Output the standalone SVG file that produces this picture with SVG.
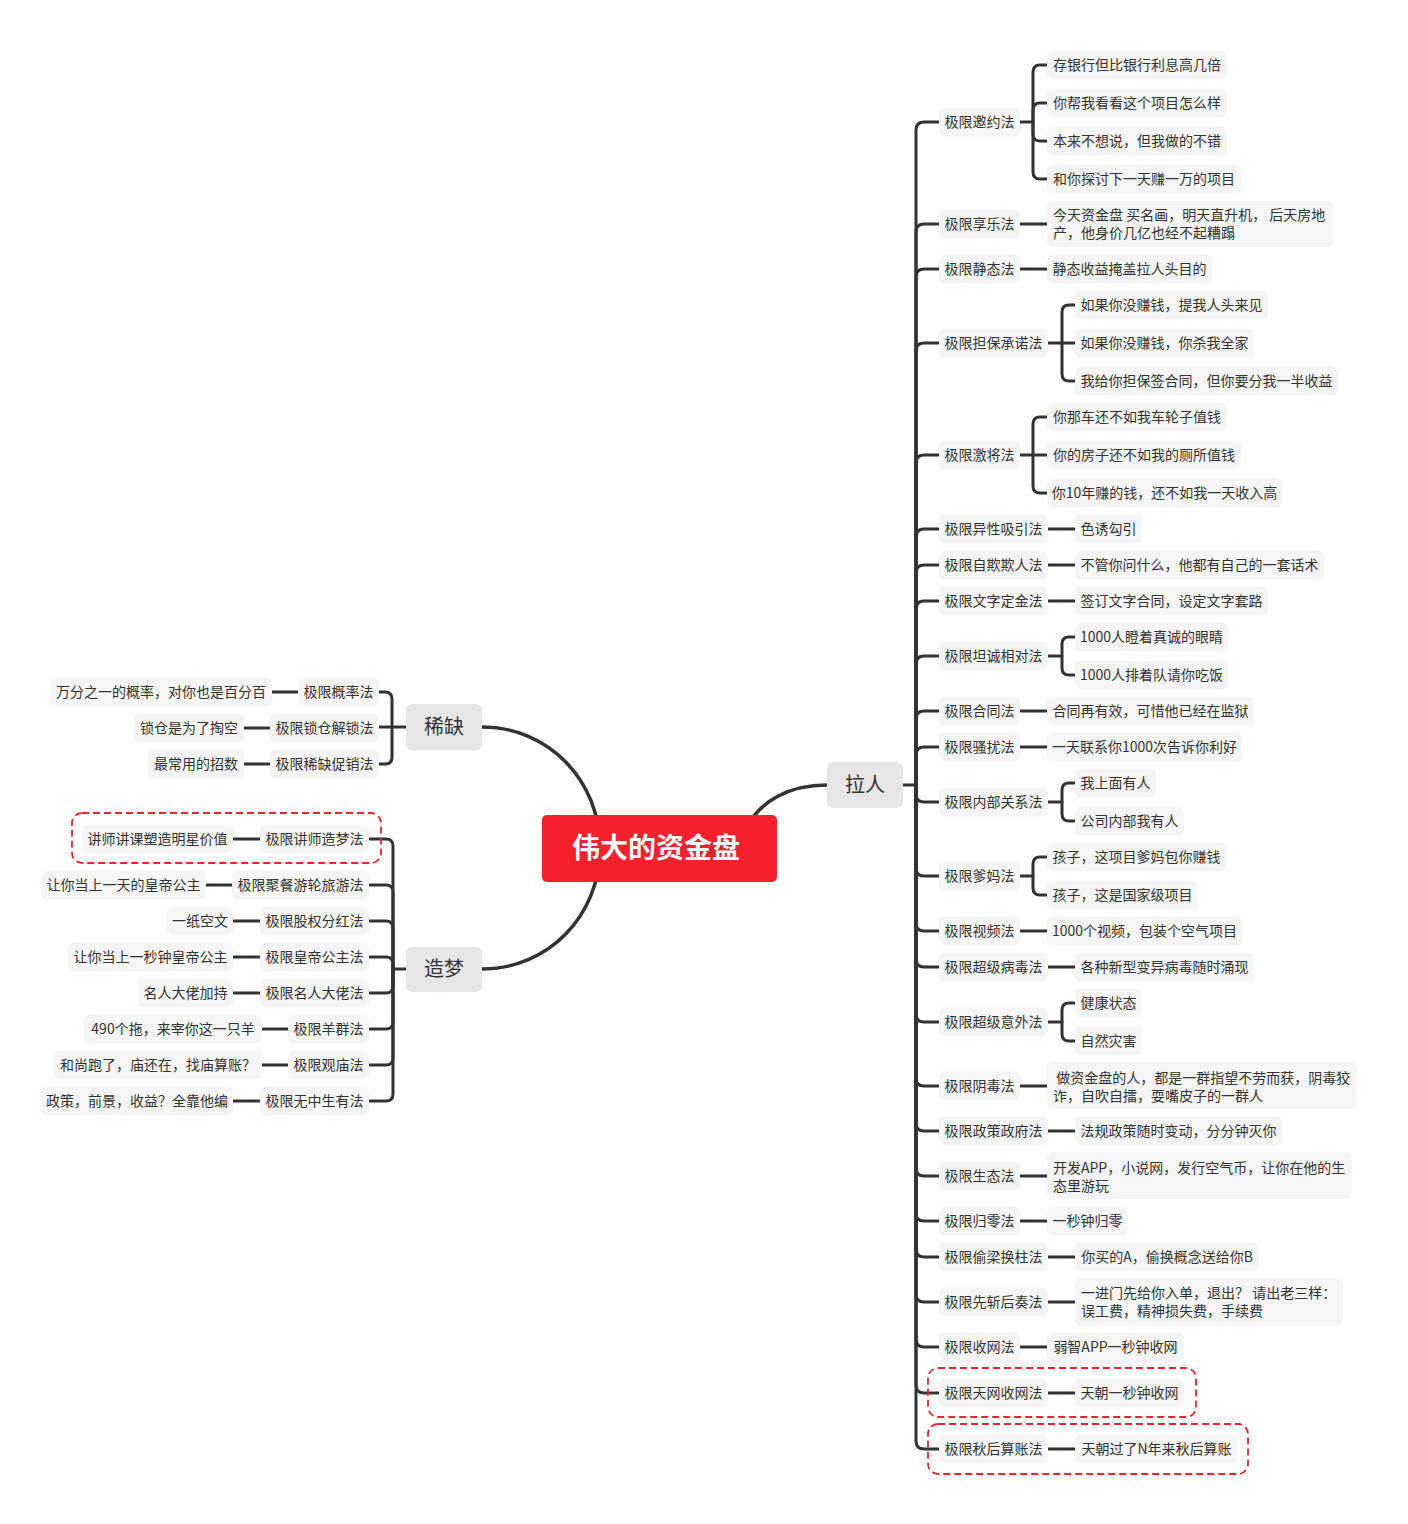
<svg xmlns="http://www.w3.org/2000/svg" width="1408" height="1524" viewBox="0 0 1408 1524">
<style>
.bg{fill:#ffffff}
.ln{fill:none;stroke:#333333;stroke-width:3;stroke-linecap:round;stroke-linejoin:round}
.cv{fill:none;stroke:#333333;stroke-width:3.5;stroke-linecap:round}
.n{fill:#f5f5f5}
.m{fill:#e6e6e6}
.t{font-family:"Noto Sans CJK SC","Liberation Sans",sans-serif;font-size:14px;fill:#333333}
.tc{text-anchor:middle}
.tm{font-family:"Noto Sans CJK SC","Liberation Sans",sans-serif;font-size:20px;fill:#333333;text-anchor:middle}
.root{font-family:"Noto Sans CJK SC","Liberation Sans",sans-serif;font-size:28px;font-weight:bold;fill:#ffffff;text-anchor:middle}
.dash{fill:none;stroke:#f5222d;stroke-width:1.8;stroke-dasharray:7 4}
</style>
<rect class="bg" x="0" y="0" width="1408" height="1524"/>

<g id="connectors">
<!-- root curves -->
<path class="cv" d="M482,727 C548,727 600,780 600,848"/>
<path class="cv" d="M482,969 C548,969 600,916 600,848"/>
<path class="cv" d="M827,785 C790,785 760,800 745,830"/>
<!-- right trunk -->
<path class="ln" d="M903,785 H916 V130 Q916,122 924,122 H939"/>
<path class="ln" d="M916,785 V232 Q916,224 924,224 H939"/>
<path class="ln" d="M916,785 V277 Q916,269 924,269 H939"/>
<path class="ln" d="M916,785 V351 Q916,343 924,343 H939"/>
<path class="ln" d="M916,785 V463 Q916,455 924,455 H939"/>
<path class="ln" d="M916,785 V537 Q916,529 924,529 H939"/>
<path class="ln" d="M916,785 V573 Q916,565 924,565 H939"/>
<path class="ln" d="M916,785 V609 Q916,601 924,601 H939"/>
<path class="ln" d="M916,785 V664 Q916,656 924,656 H939"/>
<path class="ln" d="M916,785 V719 Q916,711 924,711 H939"/>
<path class="ln" d="M916,785 V755 Q916,747 924,747 H939"/>
<path class="ln" d="M916,785 V794 Q916,802 924,802 H939"/>
<path class="ln" d="M916,785 V868 Q916,876 924,876 H939"/>
<path class="ln" d="M916,785 V923 Q916,931 924,931 H939"/>
<path class="ln" d="M916,785 V959 Q916,967 924,967 H939"/>
<path class="ln" d="M916,785 V1014 Q916,1022 924,1022 H939"/>
<path class="ln" d="M916,785 V1078 Q916,1086 924,1086 H939"/>
<path class="ln" d="M916,785 V1123 Q916,1131 924,1131 H939"/>
<path class="ln" d="M916,785 V1168 Q916,1176 924,1176 H939"/>
<path class="ln" d="M916,785 V1213 Q916,1221 924,1221 H939"/>
<path class="ln" d="M916,785 V1249 Q916,1257 924,1257 H939"/>
<path class="ln" d="M916,785 V1294 Q916,1302 924,1302 H939"/>
<path class="ln" d="M916,785 V1339 Q916,1347 924,1347 H939"/>
<path class="ln" d="M916,785 V1385 Q916,1393 924,1393 H939"/>
<path class="ln" d="M916,785 V1441 Q916,1449 924,1449 H939"/>
<!-- right L2 to L3 -->
<path class="ln" d="M1020,122 H1033 V72 Q1033,65 1040,65 H1047"/>
<path class="ln" d="M1033,122 V110 Q1033,103 1040,103 H1047"/>
<path class="ln" d="M1033,122 V134 Q1033,141 1040,141 H1047"/>
<path class="ln" d="M1033,122 V172 Q1033,179 1040,179 H1047"/>
<path class="ln" d="M1020,224 H1047"/>
<path class="ln" d="M1020,269 H1047"/>
<path class="ln" d="M1048,343 H1075"/>
<path class="ln" d="M1062,343 V312 Q1062,305 1069,305 H1075"/>
<path class="ln" d="M1062,343 V374 Q1062,381 1069,381 H1075"/>
<path class="ln" d="M1020,455 H1047"/>
<path class="ln" d="M1033,455 V424 Q1033,417 1040,417 H1047"/>
<path class="ln" d="M1033,455 V486 Q1033,493 1040,493 H1047"/>
<path class="ln" d="M1048,529 H1075"/>
<path class="ln" d="M1048,565 H1075"/>
<path class="ln" d="M1048,601 H1075"/>
<path class="ln" d="M1048,656 H1062 V644 Q1062,637 1069,637 H1075"/>
<path class="ln" d="M1062,656 V668 Q1062,675 1069,675 H1075"/>
<path class="ln" d="M1020,711 H1047"/>
<path class="ln" d="M1020,747 H1047"/>
<path class="ln" d="M1048,802 H1062 V790 Q1062,783 1069,783 H1075"/>
<path class="ln" d="M1062,802 V814 Q1062,821 1069,821 H1075"/>
<path class="ln" d="M1020,876 H1033 V864 Q1033,857 1040,857 H1047"/>
<path class="ln" d="M1033,876 V888 Q1033,895 1040,895 H1047"/>
<path class="ln" d="M1020,931 H1047"/>
<path class="ln" d="M1048,967 H1075"/>
<path class="ln" d="M1048,1022 H1062 V1010 Q1062,1003 1069,1003 H1075"/>
<path class="ln" d="M1062,1022 V1034 Q1062,1041 1069,1041 H1075"/>
<path class="ln" d="M1020,1086 H1047"/>
<path class="ln" d="M1048,1131 H1075"/>
<path class="ln" d="M1020,1176 H1047"/>
<path class="ln" d="M1020,1221 H1047"/>
<path class="ln" d="M1048,1257 H1075"/>
<path class="ln" d="M1048,1302 H1075"/>
<path class="ln" d="M1020,1347 H1047"/>
<path class="ln" d="M1048,1393 H1075"/>
<path class="ln" d="M1048,1449 H1075"/>
<!-- left: 稀缺 -->
<path class="ln" d="M406,727 H392 V699 Q392,692 385,692 H379"/>
<path class="ln" d="M392,727 H379"/>
<path class="ln" d="M392,727 V757 Q392,764 385,764 H379"/>
<path class="ln" d="M298,692 H272"/>
<path class="ln" d="M270,728 H244"/>
<path class="ln" d="M270,764 H244"/>
<!-- left: 造梦 -->
<path class="ln" d="M406,969 H393 V846 Q393,839 386,839 H369"/>
<path class="ln" d="M393,969 V892 Q393,885 386,885 H369"/>
<path class="ln" d="M393,969 V928 Q393,921 386,921 H369"/>
<path class="ln" d="M393,969 V964 Q393,957 386,957 H369"/>
<path class="ln" d="M393,969 V986 Q393,993 386,993 H369"/>
<path class="ln" d="M393,969 V1022 Q393,1029 386,1029 H369"/>
<path class="ln" d="M393,969 V1058 Q393,1065 386,1065 H369"/>
<path class="ln" d="M393,969 V1094 Q393,1101 386,1101 H369"/>
<path class="ln" d="M260,839 H233"/>
<path class="ln" d="M232,885 H206"/>
<path class="ln" d="M260,921 H233"/>
<path class="ln" d="M260,957 H233"/>
<path class="ln" d="M260,993 H233"/>
<path class="ln" d="M288,1029 H262"/>
<path class="ln" d="M288,1065 H262"/>
<path class="ln" d="M260,1101 H233"/>
</g>

<!-- root -->
<g id="root">
<rect x="542" y="815" width="235" height="67" rx="5" fill="#f5222d"/>
<text class="root" x="656" y="858">伟大的资金盘</text>
</g>

<!-- main branches -->
<g id="n-laren"><rect class="m" x="827" y="762" width="76" height="46" rx="6"/><text class="tm" x="865" y="792">拉人</text></g>
<g id="n-xique"><rect class="m" x="406" y="704" width="76" height="46" rx="6"/><text class="tm" x="444" y="734">稀缺</text></g>
<g id="n-zaomeng"><rect class="m" x="406" y="947" width="76" height="45" rx="6"/><text class="tm" x="444" y="976">造梦</text></g>

<!-- right L2 -->
<g id="r1"><rect class="n" x="939" y="107.5" width="81" height="29" rx="6"/><text class="t tc" x="979.5" y="127">极限邀约法</text></g>
<g id="r2"><rect class="n" x="939" y="209.5" width="81" height="29" rx="6"/><text class="t tc" x="979.5" y="229">极限享乐法</text></g>
<g id="r3"><rect class="n" x="939" y="254.5" width="81" height="29" rx="6"/><text class="t tc" x="979.5" y="274">极限静态法</text></g>
<g id="r4"><rect class="n" x="939" y="328.5" width="109" height="29" rx="6"/><text class="t tc" x="993.5" y="348">极限担保承诺法</text></g>
<g id="r5"><rect class="n" x="939" y="440.5" width="81" height="29" rx="6"/><text class="t tc" x="979.5" y="460">极限激将法</text></g>
<g id="r6"><rect class="n" x="939" y="514.5" width="109" height="29" rx="6"/><text class="t tc" x="993.5" y="534">极限异性吸引法</text></g>
<g id="r7"><rect class="n" x="939" y="550.5" width="109" height="29" rx="6"/><text class="t tc" x="993.5" y="570">极限自欺欺人法</text></g>
<g id="r8"><rect class="n" x="939" y="586.5" width="109" height="29" rx="6"/><text class="t tc" x="993.5" y="606">极限文字定金法</text></g>
<g id="r9"><rect class="n" x="939" y="641.5" width="109" height="29" rx="6"/><text class="t tc" x="993.5" y="661">极限坦诚相对法</text></g>
<g id="r10"><rect class="n" x="939" y="696.5" width="81" height="29" rx="6"/><text class="t tc" x="979.5" y="716">极限合同法</text></g>
<g id="r11"><rect class="n" x="939" y="732.5" width="81" height="29" rx="6"/><text class="t tc" x="979.5" y="752">极限骚扰法</text></g>
<g id="r12"><rect class="n" x="939" y="787.5" width="109" height="29" rx="6"/><text class="t tc" x="993.5" y="807">极限内部关系法</text></g>
<g id="r13"><rect class="n" x="939" y="861.5" width="81" height="29" rx="6"/><text class="t tc" x="979.5" y="881">极限爹妈法</text></g>
<g id="r14"><rect class="n" x="939" y="916.5" width="81" height="29" rx="6"/><text class="t tc" x="979.5" y="936">极限视频法</text></g>
<g id="r15"><rect class="n" x="939" y="952.5" width="109" height="29" rx="6"/><text class="t tc" x="993.5" y="972">极限超级病毒法</text></g>
<g id="r16"><rect class="n" x="939" y="1007.5" width="109" height="29" rx="6"/><text class="t tc" x="993.5" y="1027">极限超级意外法</text></g>
<g id="r17"><rect class="n" x="939" y="1071.5" width="81" height="29" rx="6"/><text class="t tc" x="979.5" y="1091">极限阴毒法</text></g>
<g id="r18"><rect class="n" x="939" y="1116.5" width="109" height="29" rx="6"/><text class="t tc" x="993.5" y="1136">极限政策政府法</text></g>
<g id="r19"><rect class="n" x="939" y="1161.5" width="81" height="29" rx="6"/><text class="t tc" x="979.5" y="1181">极限生态法</text></g>
<g id="r20"><rect class="n" x="939" y="1206.5" width="81" height="29" rx="6"/><text class="t tc" x="979.5" y="1226">极限归零法</text></g>
<g id="r21"><rect class="n" x="939" y="1242.5" width="109" height="29" rx="6"/><text class="t tc" x="993.5" y="1262">极限偷梁换柱法</text></g>
<g id="r22"><rect class="n" x="939" y="1287.5" width="109" height="29" rx="6"/><text class="t tc" x="993.5" y="1307">极限先斩后奏法</text></g>
<g id="r23"><rect class="n" x="939" y="1332.5" width="81" height="29" rx="6"/><text class="t tc" x="979.5" y="1352">极限收网法</text></g>
<g id="r24"><rect class="n" x="939" y="1378.5" width="109" height="29" rx="6"/><text class="t tc" x="993.5" y="1398">极限天网收网法</text></g>
<g id="r25"><rect class="n" x="939" y="1434.5" width="109" height="29" rx="6"/><text class="t tc" x="993.5" y="1454">极限秋后算账法</text></g>

<!-- right L3 -->
<g id="r1a"><rect class="n" x="1047" y="50.5" width="180" height="29" rx="6"/><text class="t tc" x="1137" y="70">存银行但比银行利息高几倍</text></g>
<g id="r1b"><rect class="n" x="1047" y="88.5" width="180" height="29" rx="6"/><text class="t tc" x="1137" y="108">你帮我看看这个项目怎么样</text></g>
<g id="r1c"><rect class="n" x="1047" y="126.5" width="180" height="29" rx="6"/><text class="t tc" x="1137" y="146">本来不想说，但我做的不错</text></g>
<g id="r1d"><rect class="n" x="1047" y="164.5" width="194" height="29" rx="6"/><text class="t tc" x="1144" y="184">和你探讨下一天赚一万的项目</text></g>
<g id="r2a"><rect class="n" x="1047" y="201" width="286" height="46" rx="6"/><text class="t" x="1053" y="220" xml:space="preserve">今天资金盘 买名画，明天直升机， 后天房地</text><text class="t" x="1053" y="238">产，他身价几亿也经不起糟蹋</text></g>
<g id="r3a"><rect class="n" x="1047" y="254.5" width="165" height="29" rx="6"/><text class="t tc" x="1129.5" y="274">静态收益掩盖拉人头目的</text></g>
<g id="r4a"><rect class="n" x="1075" y="290.5" width="193" height="29" rx="6"/><text class="t tc" x="1171.5" y="310">如果你没赚钱，提我人头来见</text></g>
<g id="r4b"><rect class="n" x="1075" y="328.5" width="179" height="29" rx="6"/><text class="t tc" x="1164.5" y="348">如果你没赚钱，你杀我全家</text></g>
<g id="r4c"><rect class="n" x="1075" y="366.5" width="263" height="29" rx="6"/><text class="t tc" x="1206.5" y="386">我给你担保签合同，但你要分我一半收益</text></g>
<g id="r5a"><rect class="n" x="1047" y="402.5" width="180" height="29" rx="6"/><text class="t tc" x="1137" y="422">你那车还不如我车轮子值钱</text></g>
<g id="r5b"><rect class="n" x="1047" y="440.5" width="194" height="29" rx="6"/><text class="t tc" x="1144" y="460">你的房子还不如我的厕所值钱</text></g>
<g id="r5c"><rect class="n" x="1047" y="478.5" width="235" height="29" rx="6"/><text class="t tc" x="1164.5" y="498">你10年赚的钱，还不如我一天收入高</text></g>
<g id="r6a"><rect class="n" x="1075" y="514.5" width="67" height="29" rx="6"/><text class="t tc" x="1108.5" y="534">色诱勾引</text></g>
<g id="r7a"><rect class="n" x="1075" y="550.5" width="249" height="29" rx="6"/><text class="t tc" x="1199.5" y="570">不管你问什么，他都有自己的一套话术</text></g>
<g id="r8a"><rect class="n" x="1075" y="586.5" width="193" height="29" rx="6"/><text class="t tc" x="1171.5" y="606">签订文字合同，设定文字套路</text></g>
<g id="r9a"><rect class="n" x="1075" y="622.5" width="153" height="29" rx="6"/><text class="t tc" x="1151.5" y="642">1000人瞪着真诚的眼睛</text></g>
<g id="r9b"><rect class="n" x="1075" y="660.5" width="153" height="29" rx="6"/><text class="t tc" x="1151.5" y="680">1000人排着队请你吃饭</text></g>
<g id="r10a"><rect class="n" x="1047" y="696.5" width="207" height="29" rx="6"/><text class="t tc" x="1150.5" y="716">合同再有效，可惜他已经在监狱</text></g>
<g id="r11a"><rect class="n" x="1047" y="732.5" width="195" height="29" rx="6"/><text class="t tc" x="1144.5" y="752">一天联系你1000次告诉你利好</text></g>
<g id="r12a"><rect class="n" x="1075" y="768.5" width="81" height="29" rx="6"/><text class="t tc" x="1115.5" y="788">我上面有人</text></g>
<g id="r12b"><rect class="n" x="1075" y="806.5" width="109" height="29" rx="6"/><text class="t tc" x="1129.5" y="826">公司内部我有人</text></g>
<g id="r13a"><rect class="n" x="1047" y="842.5" width="179" height="29" rx="6"/><text class="t tc" x="1136.5" y="862">孩子，这项目爹妈包你赚钱</text></g>
<g id="r13b"><rect class="n" x="1047" y="880.5" width="151" height="29" rx="6"/><text class="t tc" x="1122.5" y="900">孩子，这是国家级项目</text></g>
<g id="r14a"><rect class="n" x="1047" y="916.5" width="195" height="29" rx="6"/><text class="t tc" x="1144.5" y="936">1000个视频，包装个空气项目</text></g>
<g id="r15a"><rect class="n" x="1075" y="952.5" width="179" height="29" rx="6"/><text class="t tc" x="1164.5" y="972">各种新型变异病毒随时涌现</text></g>
<g id="r16a"><rect class="n" x="1075" y="988.5" width="67" height="29" rx="6"/><text class="t tc" x="1108.5" y="1008">健康状态</text></g>
<g id="r16b"><rect class="n" x="1075" y="1026.5" width="67" height="29" rx="6"/><text class="t tc" x="1108.5" y="1046">自然灾害</text></g>
<g id="r17a"><rect class="n" x="1047" y="1062" width="310" height="47" rx="6"/><text class="t" x="1053" y="1083" xml:space="preserve"> 做资金盘的人，都是一群指望不劳而获，阴毒狡</text><text class="t" x="1053" y="1101">诈，自吹自擂，耍嘴皮子的一群人</text></g>
<g id="r18a"><rect class="n" x="1075" y="1116.5" width="207" height="29" rx="6"/><text class="t tc" x="1178.5" y="1136">法规政策随时变动，分分钟灭你</text></g>
<g id="r19a"><rect class="n" x="1047" y="1152" width="305" height="47" rx="6"/><text class="t" x="1053" y="1173">开发APP，小说网，发行空气币，让你在他的生</text><text class="t" x="1053" y="1191">态里游玩</text></g>
<g id="r20a"><rect class="n" x="1047" y="1206.5" width="81" height="29" rx="6"/><text class="t tc" x="1087.5" y="1226">一秒钟归零</text></g>
<g id="r21a"><rect class="n" x="1075" y="1242.5" width="184" height="29" rx="6"/><text class="t tc" x="1167" y="1262">你买的A，偷换概念送给你B</text></g>
<g id="r22a"><rect class="n" x="1075" y="1278" width="268" height="48" rx="6"/><text class="t" x="1081" y="1298" xml:space="preserve">一进门先给你入单，退出？ 请出老三样：</text><text class="t" x="1081" y="1316">误工费，精神损失费，手续费</text></g>
<g id="r23a"><rect class="n" x="1047" y="1332.5" width="137" height="29" rx="6"/><text class="t tc" x="1115.5" y="1352">弱智APP一秒钟收网</text></g>
<g id="r24a"><rect class="n" x="1075" y="1378.5" width="109" height="29" rx="6"/><text class="t tc" x="1129.5" y="1398">天朝一秒钟收网</text></g>
<g id="r25a"><rect class="n" x="1075" y="1434.5" width="163" height="29" rx="6"/><text class="t tc" x="1156.5" y="1454">天朝过了N年来秋后算账</text></g>

<!-- left 稀缺 -->
<g id="x1"><rect class="n" x="298" y="677.5" width="81" height="29" rx="6"/><text class="t tc" x="338.5" y="697">极限概率法</text></g>
<g id="x2"><rect class="n" x="270" y="713.5" width="109" height="29" rx="6"/><text class="t tc" x="324.5" y="733">极限锁仓解锁法</text></g>
<g id="x3"><rect class="n" x="270" y="749.5" width="109" height="29" rx="6"/><text class="t tc" x="324.5" y="769">极限稀缺促销法</text></g>
<g id="x1a"><rect class="n" x="50" y="677.5" width="222" height="29" rx="6"/><text class="t tc" x="161" y="697">万分之一的概率，对你也是百分百</text></g>
<g id="x2a"><rect class="n" x="134" y="713.5" width="110" height="29" rx="6"/><text class="t tc" x="189" y="733">锁仓是为了掏空</text></g>
<g id="x3a"><rect class="n" x="148" y="749.5" width="96" height="29" rx="6"/><text class="t tc" x="196" y="769">最常用的招数</text></g>

<!-- left 造梦 -->
<g id="z1"><rect class="n" x="260" y="824.5" width="109" height="29" rx="6"/><text class="t tc" x="314.5" y="844">极限讲师造梦法</text></g>
<g id="z2"><rect class="n" x="232" y="870.5" width="137" height="29" rx="6"/><text class="t tc" x="300.5" y="890">极限聚餐游轮旅游法</text></g>
<g id="z3"><rect class="n" x="260" y="906.5" width="109" height="29" rx="6"/><text class="t tc" x="314.5" y="926">极限股权分红法</text></g>
<g id="z4"><rect class="n" x="260" y="942.5" width="109" height="29" rx="6"/><text class="t tc" x="314.5" y="962">极限皇帝公主法</text></g>
<g id="z5"><rect class="n" x="260" y="978.5" width="109" height="29" rx="6"/><text class="t tc" x="314.5" y="998">极限名人大佬法</text></g>
<g id="z6"><rect class="n" x="288" y="1014.5" width="81" height="29" rx="6"/><text class="t tc" x="328.5" y="1034">极限羊群法</text></g>
<g id="z7"><rect class="n" x="288" y="1050.5" width="81" height="29" rx="6"/><text class="t tc" x="328.5" y="1070">极限观庙法</text></g>
<g id="z8"><rect class="n" x="260" y="1086.5" width="109" height="29" rx="6"/><text class="t tc" x="314.5" y="1106">极限无中生有法</text></g>
<g id="z1a"><rect class="n" x="82" y="824.5" width="151" height="29" rx="6"/><text class="t tc" x="157.5" y="844">讲师讲课塑造明星价值</text></g>
<g id="z2a"><rect class="n" x="41" y="870.5" width="165" height="29" rx="6"/><text class="t tc" x="123.5" y="890">让你当上一天的皇帝公主</text></g>
<g id="z3a"><rect class="n" x="167" y="906.5" width="66" height="29" rx="6"/><text class="t tc" x="200" y="926">一纸空文</text></g>
<g id="z4a"><rect class="n" x="68" y="942.5" width="165" height="29" rx="6"/><text class="t tc" x="150.5" y="962">让你当上一秒钟皇帝公主</text></g>
<g id="z5a"><rect class="n" x="138" y="978.5" width="95" height="29" rx="6"/><text class="t tc" x="185.5" y="998">名人大佬加持</text></g>
<g id="z6a"><rect class="n" x="84" y="1014.5" width="178" height="29" rx="6"/><text class="t tc" x="173" y="1034">490个拖，来宰你这一只羊</text></g>
<g id="z7a"><rect class="n" x="54" y="1050.5" width="208" height="29" rx="6"/><text class="t tc" x="158" y="1070">和尚跑了，庙还在，找庙算账？</text></g>
<g id="z8a"><rect class="n" x="41" y="1086.5" width="192" height="29" rx="6"/><text class="t tc" x="137" y="1106">政策，前景，收益？全靠他编</text></g>

<!-- dashed highlight boxes -->
<g id="highlights">
<rect class="dash" x="72" y="813" width="309" height="50" rx="10"/>
<rect class="dash" x="928" y="1368" width="268" height="49" rx="10"/>
<rect class="dash" x="928" y="1424" width="320" height="50" rx="10"/>
</g>
</svg>
